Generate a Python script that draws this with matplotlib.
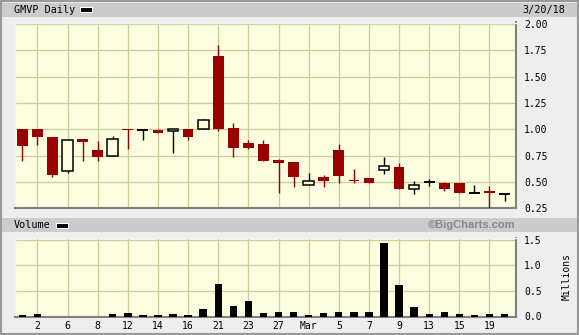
import numpy as np
import matplotlib
matplotlib.use('Agg')
import matplotlib.pyplot as plt
from matplotlib.patches import Rectangle

# daily OHLC, Feb 1 - Mar 20 2018 (trading days)
opens = [1.00, 1.00, 0.93, 0.60, 0.91, 0.80, 0.75, 1.00, 0.99, 0.99, 0.98, 1.00, 1.00, 1.70, 1.01, 0.87, 0.86,
         0.71, 0.69, 0.47, 0.55, 0.80, 0.52, 0.54, 0.61, 0.64, 0.43, 0.50, 0.49, 0.49, 0.40, 0.41, 0.39]
highs = [1.00, 1.00, 0.93, 0.90, 0.91, 0.89, 0.935, 1.00, 1.00, 1.00, 1.00, 1.00, 1.10, 1.80, 1.06, 0.90, 0.90,
         0.72, 0.69, 0.59, 0.57, 0.86, 0.62, 0.54, 0.74, 0.68, 0.51, 0.53, 0.50, 0.49, 0.47, 0.46, 0.39]
lows = [0.70, 0.85, 0.55, 0.59, 0.70, 0.70, 0.75, 0.81, 0.90, 0.97, 0.78, 0.90, 1.00, 0.98, 0.74, 0.81, 0.70,
        0.40, 0.45, 0.47, 0.45, 0.49, 0.49, 0.49, 0.58, 0.43, 0.39, 0.46, 0.41, 0.40, 0.40, 0.24, 0.32]
closes = [0.84, 0.93, 0.57, 0.90, 0.88, 0.74, 0.91, 0.99, 0.99, 0.97, 1.00, 0.93, 1.09, 1.00, 0.82, 0.82, 0.70,
          0.68, 0.55, 0.51, 0.51, 0.56, 0.51, 0.49, 0.65, 0.43, 0.47, 0.50, 0.43, 0.40, 0.40, 0.40, 0.39]
volume = [0.025, 0.045, 0, 0, 0, 0, 0.045, 0.065, 0.026, 0.026, 0.045, 0.026, 0.14, 0.63, 0.20, 0.30, 0.065,
          0.084, 0.084, 0.026, 0.065, 0.084, 0.084, 0.084, 1.44, 0.61, 0.18, 0.045, 0.084, 0.045, 0.026, 0.045, 0.045]
tick_labels = ['2', '6', '8', '12', '14', '16', '21', '23', '27', 'Mar', '5', '7', '9', '13', '15', '19']

W, H = 579, 335
RED = '#990000'
GRID = '#cccc99'
BG = '#fdfddf'
MONO = 'DejaVu Sans Mono'

def fx(x):
    return x / W

def fy(y):
    return 1 - y / H

fig = plt.figure(figsize=(W / 100, H / 100), dpi=100, facecolor='#eeeeee')

# outer frame and header bars
fig.patches.append(Rectangle((0, 0), 1, 1, transform=fig.transFigure, fill=False,
                             edgecolor='#999999', linewidth=3, zorder=0))
for top, bot in [(3, 16.7), (217.7, 232.3)]:
    fig.patches.append(Rectangle((fx(2), fy(bot)), fx(W - 4), (bot - top) / H, transform=fig.transFigure,
                                 facecolor='#cccccc', edgecolor='none', zorder=0))

ax = fig.add_axes([fx(14.5), fy(208.3), fx(501.5), (208.3 - 22.5) / H])
axv = fig.add_axes([fx(14.5), fy(316.5), fx(501.5), (316.5 - 237.7) / H])

x = np.arange(len(opens))
o = np.array(opens)
c = np.array(closes)
hi = np.array(highs)
lo = np.array(lows)

down = c < o
up = c > o
flat = c == o

ax.vlines(x[down], lo[down], hi[down], color=RED, linewidth=1.0, zorder=3)
ax.vlines(x[~down], lo[~down], hi[~down], color='black', linewidth=1.0, zorder=3)
ax.bar(x[down], (o - c)[down], bottom=c[down], width=0.71, color=RED, zorder=4)
ax.bar(x[up], (c - o)[up], bottom=o[up], width=0.71, facecolor=BG, edgecolor='black',
       linewidth=1.1, zorder=4)
ax.hlines(c[flat], x[flat] - 0.36, x[flat] + 0.36, color='black', linewidth=1.4, zorder=4)

axv.bar(x, volume, width=0.49, color='black', zorder=3)

for a in (ax, axv):
    a.set_facecolor(BG)
    a.set_xlim(-0.52, 32.76)
    a.set_xticks(x[1::2])
    a.grid(True, color=GRID, linewidth=0.9, zorder=0)
    a.set_axisbelow(True)
    a.yaxis.tick_right()
    a.tick_params(length=0, labelsize=7, pad=6)
    for s in ('top', 'left'):
        a.spines[s].set_color('#f4f4f4')
        a.spines[s].set_linewidth(1)
    for s in ('bottom', 'right'):
        a.spines[s].set_color('#808080')
        a.spines[s].set_linewidth(1.5)

ax.set_ylim(0.25, 2.015)
ax.set_yticks(np.arange(0.25, 2.01, 0.25))
ax.set_yticklabels(['%.2f' % v for v in np.arange(0.25, 2.01, 0.25)], family=MONO)
ax.set_xticklabels([])

axv.set_ylim(0, 1.545)
axv.set_yticks([0, 0.5, 1.0, 1.5])
axv.set_yticklabels(['0.0', '0.5', '1.0', '1.5'], family=MONO)
axv.set_xticklabels(tick_labels, family=MONO)
axv.tick_params(axis='x', pad=3)

# header texts
fig.text(fx(14), fy(10), 'GMVP Daily', family=MONO, fontsize=7.3, va='center', ha='left')
fig.patches.append(Rectangle((fx(79.5), fy(12.3)), fx(12), 5 / H, transform=fig.transFigure,
                             facecolor='black', edgecolor='white', linewidth=0.8))
fig.text(fx(565), fy(10), '3/20/18', family=MONO, fontsize=7.3, va='center', ha='right')
fig.text(fx(14), fy(225), 'Volume', family=MONO, fontsize=7.3, va='center', ha='left')
fig.patches.append(Rectangle((fx(56), fy(228)), fx(12), 5 / H, transform=fig.transFigure,
                             facecolor='black', edgecolor='white', linewidth=0.8))
fig.text(fx(515), fy(225), '\u00a9BigCharts.com', family='Liberation Sans', fontweight='bold',
         fontsize=8, color='#888888', va='center', ha='right')
fig.text(fx(567), fy(276), 'Millions', family=MONO, fontsize=7, rotation=90, va='center', ha='center')

fig.savefig('out.png', dpi=100, facecolor=fig.get_facecolor())
